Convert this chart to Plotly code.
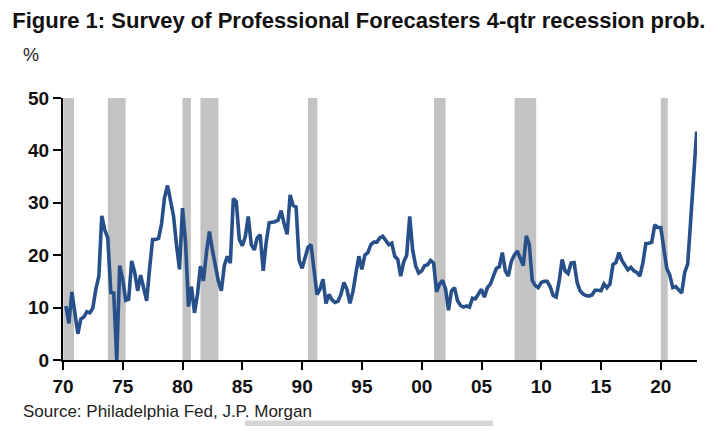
import pandas as pd
import plotly.graph_objects as go

# SPF 4-quarter-ahead recession probability (%), quarterly 1970Q1 - 2022Q4
prob_by_year = {
    1970: [10.3, 7.0, 13.0, 8.5],
    1971: [5.0, 7.8, 8.2, 9.2],
    1972: [9.0, 9.9, 13.5, 16.0],
    1973: [27.5, 24.8, 23.3, 12.9],
    1974: [12.8, 0.0, 18.0, 15.4],
    1975: [11.4, 11.6, 18.9, 16.7],
    1976: [13.2, 16.2, 13.8, 11.3],
    1977: [17.5, 23.0, 23.0, 23.2],
    1978: [26.0, 31.0, 33.3, 30.5],
    1979: [27.5, 22.0, 17.3, 29.0],
    1980: [22.5, 10.2, 14.0, 9.0],
    1981: [12.5, 17.9, 15.1, 20.5],
    1982: [24.5, 21.0, 17.5, 15.0],
    1983: [13.2, 18.0, 19.8, 18.5],
    1984: [30.8, 30.2, 23.0, 21.8],
    1985: [23.5, 27.4, 22.0, 21.0],
    1986: [23.3, 23.9, 17.0, 22.5],
    1987: [26.2, 26.3, 26.4, 26.7],
    1988: [28.5, 26.0, 24.0, 31.5],
    1989: [29.5, 29.2, 19.0, 17.5],
    1990: [19.5, 21.5, 22.0, 17.3],
    1991: [12.5, 13.5, 15.4, 10.8],
    1992: [12.5, 11.5, 11.0, 11.2],
    1993: [12.5, 14.8, 13.5, 10.8],
    1994: [13.0, 16.5, 19.8, 17.3],
    1995: [20.0, 20.5, 22.0, 22.5],
    1996: [22.5, 23.3, 23.6, 22.8],
    1997: [22.0, 22.3, 19.8, 19.2],
    1998: [16.0, 18.7, 20.0, 27.4],
    1999: [21.0, 18.0, 16.6, 17.0],
    2000: [18.0, 18.2, 19.0, 18.5],
    2001: [13.0, 14.5, 15.2, 13.5],
    2002: [9.5, 13.2, 13.8, 11.3],
    2003: [10.4, 10.1, 10.3, 10.1],
    2004: [11.8, 11.7, 12.7, 13.5],
    2005: [12.0, 13.8, 14.5, 16.0],
    2006: [17.5, 17.8, 20.5, 17.0],
    2007: [16.0, 18.8, 20.0, 20.8],
    2008: [19.2, 18.0, 23.7, 22.0],
    2009: [15.2, 14.2, 13.8, 14.8],
    2010: [15.0, 15.0, 14.0, 12.3],
    2011: [12.0, 15.0, 19.2, 17.0],
    2012: [16.5, 18.5, 18.6, 14.8],
    2013: [13.2, 12.6, 12.3, 12.2],
    2014: [12.4, 13.3, 13.3, 13.2],
    2015: [14.5, 13.8, 14.5, 18.2],
    2016: [18.6, 20.5, 19.0, 18.0],
    2017: [17.2, 17.7, 17.0, 16.7],
    2018: [16.0, 18.5, 22.2, 22.3],
    2019: [22.5, 25.8, 25.3, 25.3],
    2020: [21.0, 17.5, 16.2, 13.8],
    2021: [14.0, 13.3, 12.8, 16.7],
    2022: [18.3, 26.5, 35.0, 43.6],
}

# NBER recessions as shaded on the chart
recession_starts = ["1970-01-10", "1973-10-01", "1980-01-01", "1981-07-01",
                    "1990-07-01", "2001-01-10", "2007-10-10", "2020-01-01"]
recession_ends = ["1970-12-05", "1975-03-31", "1980-09-10", "1982-12-31",
                  "1991-04-10", "2001-12-31", "2009-07-31", "2020-07-31"]

values = [v for year in sorted(prob_by_year) for v in prob_by_year[year]]
quarters = pd.period_range("1970Q1", "2022Q4", freq="Q")
dates = quarters.to_timestamp(how="end").normalize()

FONT = "Liberation Sans, Arial, sans-serif"
LINE_BLUE = "#27508a"
BAND_GREY = "#c3c3c3"

fig = go.Figure()

for start, end in zip(recession_starts, recession_ends):
    fig.add_vrect(x0=start, x1=end, fillcolor=BAND_GREY, opacity=1,
                  line_width=0, layer="below")

fig.add_trace(
    go.Scatter(x=dates, y=values, mode="lines",
               line=dict(color=LINE_BLUE, width=3.6),
               showlegend=False, hoverinfo="x+y")
)

# page body adds an 8px offset, so the figure is 8px smaller than the window
fig.update_layout(
    width=712,
    height=423,
    margin=dict(l=55, r=23, t=90, b=71),
    paper_bgcolor="white",
    plot_bgcolor="white",
    font=dict(family=FONT, color="black"),
    title=dict(
        text="Figure 1: Survey of Professional Forecasters 4-qtr recession prob.",
        x=0.006, xanchor="left", xref="container",
        y=0.972, yanchor="middle", yref="container",
        font=dict(family=FONT, size=22, weight="bold", color="#111111"),
    ),
)

fig.update_xaxes(
    type="date",
    range=["1970-01-01", "2023-01-10"],
    tick0="1970-01-01", dtick="M60", tickformat="%y",
    showline=True, linecolor="black", linewidth=2,
    ticks="outside", ticklen=8, tickwidth=2, tickcolor="black",
    showgrid=False, zeroline=False,
    tickfont=dict(family=FONT, size=19, weight="bold", color="#111111"),
)

fig.update_yaxes(
    range=[0, 50], dtick=10,
    showline=True, linecolor="black", linewidth=2,
    ticks="outside", ticklen=8, tickwidth=2, tickcolor="black",
    showgrid=False, zeroline=False,
    tickfont=dict(family=FONT, size=19, weight="bold", color="#111111"),
)

fig.add_annotation(text="%", xref="paper", yref="paper", x=-0.066, y=1.165,
                   xanchor="left", yanchor="middle", showarrow=False,
                   font=dict(family=FONT, size=18, color="#222222"))

fig.add_annotation(text="Source: Philadelphia Fed, J.P. Morgan", xref="paper", yref="paper",
                   x=-0.066, y=-0.198, xanchor="left", yanchor="middle", showarrow=False,
                   font=dict(family=FONT, size=17, color="#222222"))

# faint grey bar along the bottom edge, as in the captured image
fig.add_shape(type="rect", xref="paper", yref="paper", x0=0.287, x1=0.678,
              y0=-0.252, y1=-0.231, fillcolor="#d6d6d6", line_width=0, layer="above")

fig.write_html("out.html")
